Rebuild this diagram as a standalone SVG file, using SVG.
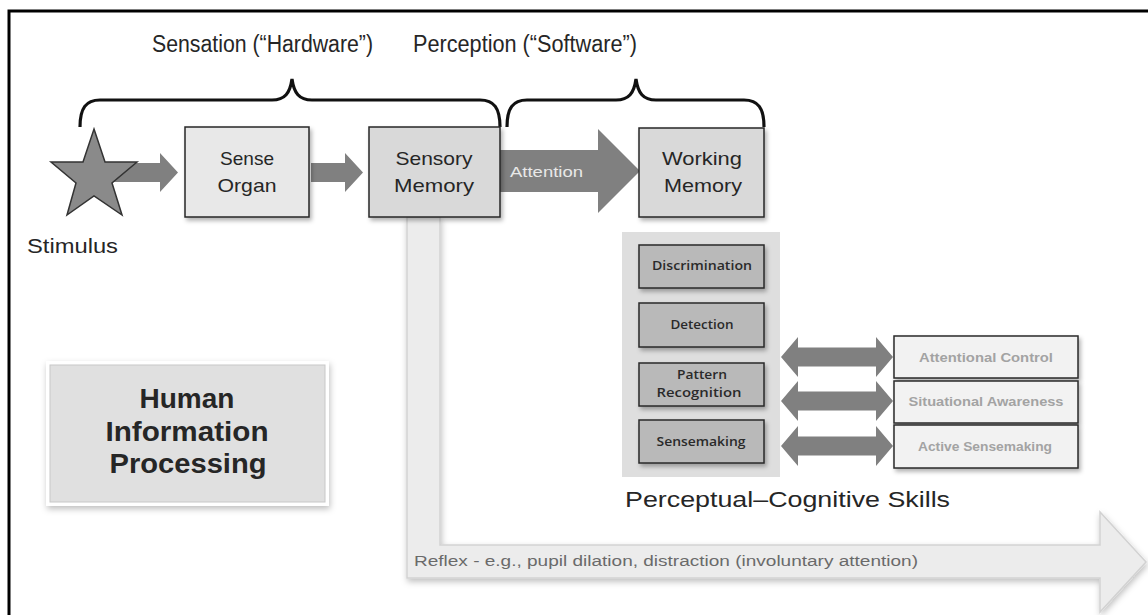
<svg xmlns="http://www.w3.org/2000/svg" width="1148" height="615" viewBox="0 0 1148 615">
<style>
.t{font-family:"Liberation Sans","Open Sans",sans-serif;fill:#262626}
.box{stroke:#262626;stroke-width:1.5}
.skill{fill:#b9b9b9;stroke:#2a2a2a;stroke-width:1.5}
.right{fill:#f2f2f2;stroke:#2a2a2a;stroke-width:1.5}
.sk{font-family:"Open Sans","Liberation Sans",sans-serif;font-size:12.5px;font-weight:600;fill:#2a2a2a;text-anchor:middle}
.rt{font-family:"Liberation Sans","Open Sans",sans-serif;font-size:13px;font-weight:bold;fill:#a3a3a3;text-anchor:middle}
.arr{fill:#808080}
.brace{fill:none;stroke:#111;stroke-width:3.2}
</style>
<defs>
<filter id="sh" x="-10%" y="-10%" width="125%" height="130%">
<feDropShadow dx="2" dy="3" stdDeviation="2" flood-color="#000" flood-opacity="0.3"/>
</filter>
<filter id="glow" x="-10%" y="-10%" width="125%" height="130%">
<feDropShadow dx="1" dy="3" stdDeviation="3" flood-color="#000" flood-opacity="0.25"/>
</filter>
</defs>
<rect width="1148" height="615" fill="#fff"/>
<path d="M9,615 V11 H1148" fill="none" stroke="#000" stroke-width="3"/>

<g id="connectors">
<path id="reflex" d="M407,217 V578 H1100 V612 L1146,562 L1100,512 V545 H440 V217 Z" fill="#ececec" stroke="#d2d2d2" stroke-width="1.5" filter="url(#glow)"/>
<path id="a1" class="arr" d="M112,163 H160 V153 L178,172.5 L160,192 V182 H112 Z"/>
<path id="a2" class="arr" d="M311,163 H345 V153 L363,172.5 L345,192 V182 H311 Z"/>
<path id="att" class="arr" d="M500,150 H598 V129 L640,171 L598,213 V192 H500 Z"/>
<path class="arr" d="M781,357 L798,337 V347.5 H876 V337 L893,357 L876,377 V366.5 H798 V377 Z"/>
<path class="arr" d="M781,401 L798,381 V391.5 H876 V381 L893,401 L876,421 V410.5 H798 V421 Z"/>
<path class="arr" d="M781,446 L798,426 V436.5 H876 V426 L893,446 L876,466 V455.5 H798 V466 Z"/>
</g>

<path class="brace" d="M80,127 C80,108 86,100 100,100 H272 C285,100 290,93 292,79 C294,93 299,100 312,100 H480 C494,100 500,108 500,127"/>
<path class="brace" d="M507,127 C507,108 513,100 527,100 H616 C629,100 634,93 636,79 C638,93 643,100 656,100 H744 C758,100 764,108 764,127"/>
<text class="t" x="152" y="52" font-size="23" textLength="221" lengthAdjust="spacingAndGlyphs">Sensation (“Hardware”)</text>
<text class="t" x="413" y="52" font-size="23" textLength="224" lengthAdjust="spacingAndGlyphs">Perception (“Software”)</text>

<g id="stimulus">
<polygon points="94,129 105,162 137,162 112,183 122,215 94,196 67,215 76,183 51,162 83,162" fill="#8a8a8a" stroke="#333" stroke-width="1.5"/>
<text class="t" x="27" y="253" font-size="20" textLength="91" lengthAdjust="spacingAndGlyphs">Stimulus</text>
</g>

<g id="sense-organ">
<rect class="box" x="185" y="127" width="124" height="90" fill="#e8e8e8" filter="url(#sh)"/>
<text class="t" x="247" y="165" font-size="19" text-anchor="middle" textLength="54" lengthAdjust="spacingAndGlyphs">Sense</text>
<text class="t" x="247" y="192" font-size="19" text-anchor="middle" textLength="59" lengthAdjust="spacingAndGlyphs">Organ</text>
</g>

<g id="sensory-memory">
<rect class="box" x="369" y="127" width="131" height="90" fill="#d9d9d9" filter="url(#sh)"/>
<text class="t" x="434" y="165" font-size="19" text-anchor="middle" textLength="77" lengthAdjust="spacingAndGlyphs">Sensory</text>
<text class="t" x="434" y="192" font-size="19" text-anchor="middle" textLength="80" lengthAdjust="spacingAndGlyphs">Memory</text>
</g>

<text x="510" y="177" font-family="Liberation Sans,Open Sans,sans-serif" font-size="15" fill="#e8e8e8" textLength="73" lengthAdjust="spacingAndGlyphs">Attention</text>

<g id="working-memory">
<rect class="box" x="639" y="128" width="125" height="89" fill="#d9d9d9" filter="url(#sh)"/>
<text class="t" x="702" y="165" font-size="19" text-anchor="middle" textLength="80" lengthAdjust="spacingAndGlyphs">Working</text>
<text class="t" x="703" y="192" font-size="19" text-anchor="middle" textLength="78" lengthAdjust="spacingAndGlyphs">Memory</text>
</g>

<g id="skills">
<rect x="622" y="232" width="158" height="245" fill="#dedede"/>
<g id="discrimination"><rect class="skill" x="639" y="245" width="125" height="43" filter="url(#sh)"/><text class="sk" x="702" y="270" textLength="100" lengthAdjust="spacingAndGlyphs">Discrimination</text></g>
<g id="detection"><rect class="skill" x="639" y="303" width="125" height="44" filter="url(#sh)"/><text class="sk" x="702" y="329" textLength="63" lengthAdjust="spacingAndGlyphs">Detection</text></g>
<g id="pattern-recognition"><rect class="skill" x="639" y="363" width="125" height="43" filter="url(#sh)"/><text class="sk" x="702" y="379" textLength="50" lengthAdjust="spacingAndGlyphs">Pattern</text><text class="sk" x="699" y="397" textLength="85" lengthAdjust="spacingAndGlyphs">Recognition</text></g>
<g id="sensemaking"><rect class="skill" x="639" y="420" width="125" height="43" filter="url(#sh)"/><text class="sk" x="701" y="446" textLength="89" lengthAdjust="spacingAndGlyphs">Sensemaking</text></g>
<text class="t" x="625" y="507" font-size="22" textLength="325" lengthAdjust="spacingAndGlyphs">Perceptual–Cognitive Skills</text>
</g>

<g id="attentional-control"><rect class="right" x="894" y="336" width="184" height="42" filter="url(#sh)"/><text class="rt" x="986" y="362" textLength="134" lengthAdjust="spacingAndGlyphs">Attentional Control</text></g>
<g id="situational-awareness"><rect class="right" x="894" y="381" width="184" height="42" filter="url(#sh)"/><text class="rt" x="986" y="406" textLength="155" lengthAdjust="spacingAndGlyphs">Situational  Awareness</text></g>
<g id="active-sensemaking"><rect class="right" x="894" y="425" width="184" height="43" filter="url(#sh)"/><text class="rt" x="985" y="451" textLength="134" lengthAdjust="spacingAndGlyphs">Active Sensemaking</text></g>

<text x="414" y="566" font-family="Liberation Sans,Open Sans,sans-serif" font-size="14" fill="#6a6a6a" textLength="504" lengthAdjust="spacingAndGlyphs">Reflex - e.g., pupil dilation, distraction (involuntary attention)</text>

<g id="hip">
<rect x="46" y="361" width="283" height="145" fill="#fff" filter="url(#glow)"/>
<rect x="50" y="365" width="275" height="137" fill="#e0e0e0" stroke="#c8c8c8" stroke-width="1"/>
<text class="t" x="187" y="408" font-size="28" font-weight="bold" text-anchor="middle" fill="#111">Human</text>
<text class="t" x="187" y="441" font-size="28" font-weight="bold" text-anchor="middle" fill="#111" textLength="163" lengthAdjust="spacingAndGlyphs">Information</text>
<text class="t" x="188" y="473" font-size="28" font-weight="bold" text-anchor="middle" fill="#111" textLength="157" lengthAdjust="spacingAndGlyphs">Processing</text>
</g>
</svg>
